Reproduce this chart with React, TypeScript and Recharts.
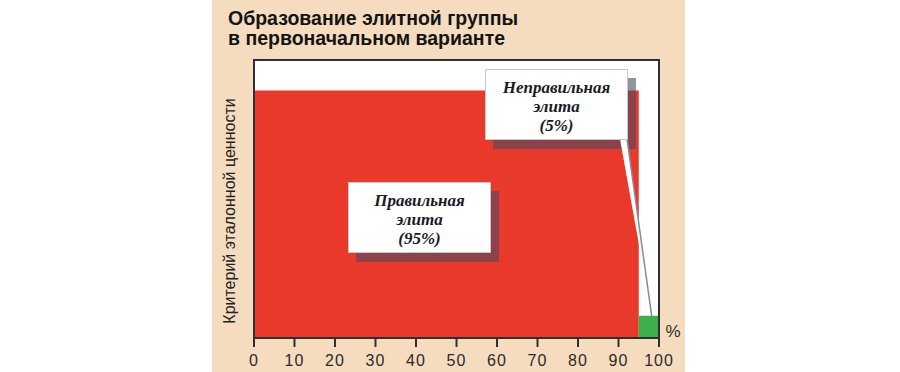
import {
  Area,
  CartesianGrid,
  ComposedChart,
  ReferenceArea,
  ReferenceLine,
  XAxis,
  YAxis,
} from "recharts";

// share boundaries on the x axis (%), and the criterion level of each group
const shareX = [0, 95, 100];
const correctElite = [89, 89, null];
const wrongElite = [null, 8, 8];
const xTicks = [0, 10, 20, 30, 40, 50, 60, 70, 80, 90, 100];

const title = ["Образование элитной группы", "в первоначальном варианте"];
const yLabel = "Критерий эталонной ценности";
const correctNote = ["Правильная", "элита", "(95%)"];
const wrongNote = ["Неправильная", "элита", "(5%)"];

const data = shareX.map((x, i) => ({
  x,
  correct: correctElite[i],
  wrong: wrongElite[i],
}));

const sans = '"Liberation Sans", Arial, sans-serif';
const serif = '"Liberation Serif", "Times New Roman", serif';

const noteBox = (left: number, top: number): React.CSSProperties => ({
  position: "absolute",
  left,
  top,
  width: 143,
  height: 71,
  boxSizing: "border-box",
});

const NoteShadow: React.FC<{ left: number; top: number }> = ({ left, top }) => (
  <div
    style={{ ...noteBox(left + 8, top + 9), background: "rgba(75,75,95,0.6)" }}
  />
);

const Note: React.FC<{ lines: string[]; left: number; top: number }> = ({
  lines,
  left,
  top,
}) => (
  <div
    style={{
      ...noteBox(left, top),
      background: "#fff",
      border: "1px solid #c8c8c8",
      display: "flex",
      flexDirection: "column",
      justifyContent: "center",
      alignItems: "center",
      paddingTop: 4,
      fontFamily: serif,
      fontStyle: "italic",
      fontWeight: "bold",
      fontSize: 17,
      lineHeight: "19px",
      color: "#1a1a26",
    }}
  >
    {lines.map((l) => (
      <div key={l}>{l}</div>
    ))}
  </div>
);

// eslint-disable-next-line @typescript-eslint/no-explicit-any
const Pointer = (props: any) => {
  const { x1, y1, x2, y2 } = props;
  return (
    <g>
      <polygon
        points={`${x1 - 7},${y1} ${x1},${y1} ${x2},${y2}`}
        fill="#fff"
      />
      <line x1={x1} y1={y1} x2={x2} y2={y2} stroke="#8a8a94" strokeWidth={1.5} />
    </g>
  );
};

const layer: React.CSSProperties = { position: "absolute", left: 0, top: 0 };

export default function App() {
  return (
    <div
      style={{
        position: "absolute",
        left: 0,
        top: 0,
        width: 900,
        height: 372,
        background: "#fff",
        overflow: "hidden",
      }}
    >
      <div
        style={{
          position: "absolute",
          left: 212,
          top: 0,
          width: 473,
          height: 372,
          background: "#f6dcbf",
        }}
      />
      <div
        style={{
          position: "absolute",
          left: 228,
          top: 8,
          fontFamily: sans,
          fontWeight: "bold",
          fontSize: 19.5,
          lineHeight: "20px",
          color: "#141414",
        }}
      >
        {title.map((t) => (
          <div key={t}>{t}</div>
        ))}
      </div>
      <div style={layer}>
        <ComposedChart
          width={900}
          height={372}
          data={data}
          margin={{ top: 60, right: 241, left: 194, bottom: 4 }}
        >
          <CartesianGrid horizontal={false} vertical={false} fill="#fff" />
          <Area
            type="linear"
            dataKey="correct"
            stroke="none"
            fill="#e8392b"
            fillOpacity={1}
            isAnimationActive={false}
          />
          <Area
            type="linear"
            dataKey="wrong"
            stroke="none"
            fill="#3cb04c"
            fillOpacity={1}
            isAnimationActive={false}
          />
          <ReferenceArea
            x1={0}
            x2={100}
            y1={0}
            y2={100}
            fill="none"
            stroke="#2e2e34"
            strokeWidth={2}
          />
          <XAxis
            type="number"
            dataKey="x"
            domain={[0, 100]}
            ticks={xTicks}
            height={30}
            tickSize={9}
            tickMargin={8}
            axisLine={{ stroke: "#2e2e34", strokeWidth: 2 }}
            tickLine={{ stroke: "#2e2e34", strokeWidth: 2 }}
            tick={{ fill: "#2a2a2a", fontSize: 16, fontFamily: sans, letterSpacing: 1 }}
            label={(p: any) => {
              const vb = p.viewBox;
              return (
                <text
                  x={vb.x + vb.width + 14}
                  y={vb.y - 1}
                  textAnchor="middle"
                  fill="#2a2a2a"
                  fontSize={17}
                  fontFamily={sans}
                >
                  %
                </text>
              );
            }}
          />
          <YAxis
            type="number"
            domain={[0, 100]}
            width={60}
            tick={false}
            tickLine={false}
            axisLine={{ stroke: "#2e2e34", strokeWidth: 2 }}
            label={(p: any) => {
              const vb = p.viewBox;
              const cx = vb.x + 35;
              const cy = vb.y + vb.height / 2 + 12;
              return (
                <text
                  x={cx}
                  y={cy}
                  transform={`rotate(-90 ${cx} ${cy})`}
                  textAnchor="middle"
                  dominantBaseline="central"
                  fill="#222"
                  fontSize={16}
                  fontFamily={sans}
                >
                  {yLabel}
                </text>
              );
            }}
          />
        </ComposedChart>
      </div>
      <NoteShadow left={485} top={69} />
      <NoteShadow left={348} top={182} />
      {/* pointer from the 5% note to the green bar, drawn over the note shadows */}
      <div style={layer}>
        <ComposedChart
          width={900}
          height={372}
          data={data}
          margin={{ top: 60, right: 241, left: 254, bottom: 34 }}
        >
          <XAxis type="number" dataKey="x" domain={[0, 100]} hide />
          <YAxis type="number" domain={[0, 100]} hide />
          <Area
            type="linear"
            dataKey="wrong"
            stroke="none"
            fill="none"
            isAnimationActive={false}
          />
          <ReferenceLine
            segment={[
              { x: 92.1, y: 71.6 },
              { x: 98.2, y: 7.9 },
            ]}
            shape={Pointer}
          />
        </ComposedChart>
      </div>
      <Note lines={wrongNote} left={485} top={69} />
      <Note lines={correctNote} left={348} top={182} />
    </div>
  );
}
